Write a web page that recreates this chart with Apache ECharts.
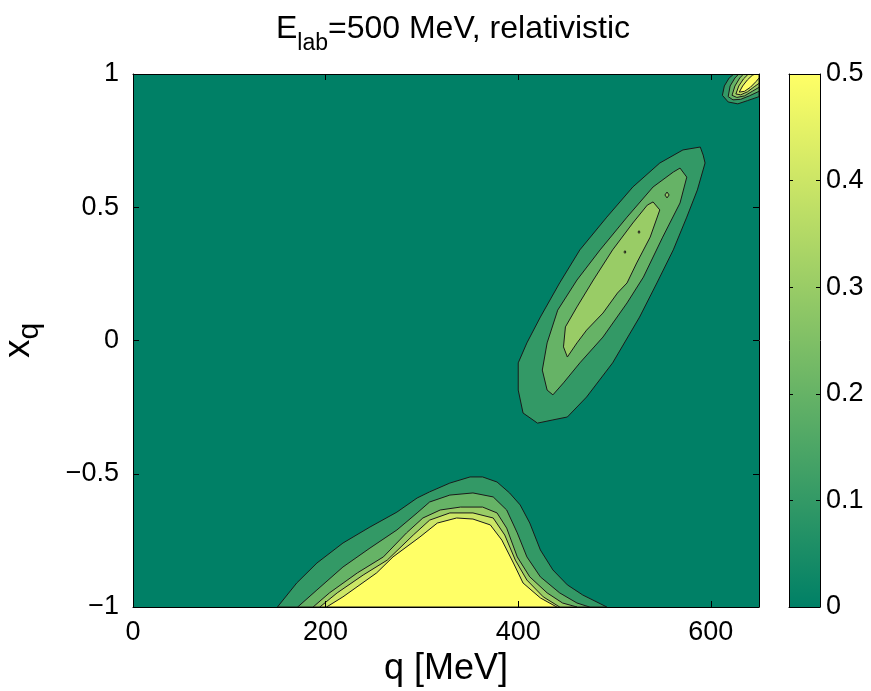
<!DOCTYPE html>
<html><head><meta charset="utf-8">
<script src="https://cdn.jsdelivr.net/npm/echarts@6/dist/echarts.min.js"></script>
<style>html,body{margin:0;padding:0;background:#fff}#c{width:871px;height:691px}</style>
</head><body><div id="c"></div>
<script>
// ---- data (q in MeV, x_q) : contour boundaries ----
const xTicks = [0, 200, 400, 600];
const yTicks = [-1, -0.5, 0, 0.5, 1];
const cbTicks = [0, 0.1, 0.2, 0.3, 0.4, 0.5];
const levels = [0.1, 0.2, 0.3, 0.4, 0.5];

const bottom01 = [[150,-1],[170,-0.91],[191,-0.835],[218,-0.76],[246,-0.70],[274,-0.644],[295,-0.591],[308,-0.568],[329,-0.535],[350,-0.512],[363,-0.512],[378,-0.531],[391,-0.572],[402,-0.617],[412,-0.685],[423,-0.786],[436,-0.861],[451,-0.917],[467,-0.955],[492,-1]];
const bottom02 = [[171,-1],[191,-0.936],[218,-0.85],[246,-0.779],[274,-0.711],[295,-0.647],[308,-0.606],[329,-0.58],[353,-0.572],[374,-0.587],[388,-0.636],[399,-0.722],[409,-0.812],[423,-0.887],[443,-0.947],[461,-0.985],[474,-1]];
const bottom03 = [[187,-1],[204,-0.947],[233,-0.872],[260,-0.812],[284,-0.722],[301,-0.666],[319,-0.636],[340,-0.625],[363,-0.625],[378,-0.647],[388,-0.704],[399,-0.812],[412,-0.887],[430,-0.947],[446,-0.985],[461,-1]];
const bottom04 = [[194,-1],[212,-0.947],[239,-0.88],[264,-0.824],[291,-0.73],[308,-0.674],[329,-0.647],[353,-0.647],[374,-0.666],[386,-0.73],[397,-0.824],[409,-0.899],[426,-0.962],[443,-1]];
const bottom05 = [[201,-1],[218,-0.962],[253,-0.872],[270,-0.812],[298,-0.737],[316,-0.685],[336,-0.666],[353,-0.67],[371,-0.692],[383,-0.749],[395,-0.835],[405,-0.91],[423,-0.966],[440,-1]];

const ridge01 = [[589,0.726],[592,0.696],[594,0.666],[586,0.565],[575,0.463],[561,0.34],[544,0.216],[526,0.088],[498,-0.084],[471,-0.212],[451,-0.287],[436,-0.298],[420,-0.31],[405,-0.272],[400,-0.186],[400,-0.084],[409,-0.009],[423,0.088],[443,0.216],[464,0.34],[492,0.463],[519,0.576],[547,0.666],[571,0.715]];
const ridge02 = [[568,0.647],[575,0.613],[568,0.516],[550,0.388],[530,0.238],[513,0.141],[488,0.013],[464,-0.084],[447,-0.159],[436,-0.204],[430,-0.186],[425,-0.111],[430,-0.009],[441,0.114],[461,0.227],[485,0.34],[513,0.463],[540,0.576],[561,0.632]];
const ridge03 = [[540,0.52],[547,0.49],[537,0.388],[523,0.291],[513,0.216],[503,0.178],[488,0.103],[471,0.039],[461,-0.009],[451,-0.062],[447,-0.024],[449,0.051],[461,0.126],[478,0.227],[498,0.34],[519,0.441],[534,0.508]];
const island03 = [[552.3,0.546],[554.5,0.557],[556.7,0.546],[554.5,0.535]];
const island04a = [[524.3,0.407],[525.4,0.412],[526.5,0.407],[525.4,0.402]];
const island04b = [[509.7,0.332],[510.8,0.337],[511.9,0.332],[510.8,0.327]];

const corner01 = [[612,0.92],[614,0.955],[619,0.985],[624,1.0],[650,1.0],[650,0.915],[638,0.9],[628,0.888],[618,0.895]];
const corner02 = [[618,0.915],[620,0.955],[625,0.985],[629,1.0],[650,1.0],[650,0.935],[640,0.918],[631,0.905],[623,0.903]];
const corner03 = [[622,0.92],[625,0.955],[630,0.985],[634,1.0],[650,1.0],[650,0.95],[643,0.935],[635,0.918],[627,0.912]];
const corner04 = [[626,0.925],[629,0.955],[634,0.982],[639,1.0],[650,1.0],[650,0.965],[645,0.952],[638,0.933],[631,0.922]];
const corner05 = [[629.5,0.932],[633,0.955],[638,0.978],[643,0.995],[646,1.0],[650,1.0],[650,0.985],[647,0.972],[641,0.95],[635,0.935]];

// ---- build ----
const contours = [
  {level:0.1, pts:bottom01},{level:0.1, pts:ridge01},{level:0.1, pts:corner01},
  {level:0.2, pts:bottom02},{level:0.2, pts:ridge02},{level:0.2, pts:corner02},
  {level:0.3, pts:bottom03},{level:0.3, pts:ridge03},{level:0.3, pts:corner03},{level:0.3, pts:island03},
  {level:0.4, pts:bottom04},{level:0.4, pts:corner04},{level:0.4, pts:island04a},{level:0.4, pts:island04b},
  {level:0.5, pts:bottom05},{level:0.5, pts:corner05}
];
// MATLAB "summer" colormap on [0, 0.5]
function summer(v){
  const t = Math.max(0, Math.min(1, v/0.5));
  const r = Math.round(255*t), g = Math.round(255*(0.5+0.5*t)), b = 102;
  return 'rgb('+r+','+g+','+b+')';
}
const F = "'Liberation Sans',Arial,sans-serif";
const minus = v => (v<0 ? '\u2212'+String(Math.abs(v)) : String(v));

const chart = echarts.init(document.getElementById('c'), null, {renderer:'canvas'});
const tickStyle = {show:true, inside:true, length:6, lineStyle:{color:'#000', width:1}};
const lineStyle = {show:true, onZero:false, lineStyle:{color:'#000', width:1}};
const TS = 27;
chart.setOption({
  animation:false,
  backgroundColor:'#fff',
  title:{
    text:'{a|E}{b|lab}{a|=500 MeV, relativistic}',
    left:448, top:8, textAlign:'center',
    textStyle:{rich:{
      a:{fontFamily:F, fontSize:32, fontWeight:'normal', color:'#000', verticalAlign:'top'},
      b:{fontFamily:F, fontSize:23, fontWeight:'normal', color:'#000', verticalAlign:'top', padding:[19,0,0,0]}
    }}
  },
  grid:[
    {left:133, top:74, width:626, height:533, show:true, backgroundColor:'#008066', borderWidth:0, outerBoundsMode:'none', containLabel:false},
    {left:789, top:74, width:31, height:533, show:false, outerBoundsMode:'none', containLabel:false}
  ],
  xAxis:[
    {type:'value', gridIndex:0, min:0, max:650, interval:200, z:10,
     axisLine:lineStyle, axisTick:tickStyle, splitLine:{show:false},
     axisLabel:{fontFamily:F, fontSize:TS, color:'#000', margin:12,
       formatter:v => (xTicks.indexOf(v)>=0 ? String(v) : '')},
     name:'q [MeV]', nameLocation:'middle', nameGap:38,
     nameTextStyle:{fontFamily:F, fontSize:36, color:'#000'}},
    {type:'value', gridIndex:0, position:'top', min:0, max:650, interval:200, z:10,
     axisLine:lineStyle, axisTick:tickStyle, axisLabel:{show:false}, splitLine:{show:false}},
    {type:'category', gridIndex:1, data:[''], z:10, axisLine:lineStyle,
     axisTick:{show:false}, axisLabel:{show:false}},
    {type:'category', gridIndex:1, position:'top', data:[''], z:10, axisLine:lineStyle,
     axisTick:{show:false}, axisLabel:{show:false}}
  ],
  yAxis:[
    {type:'value', gridIndex:0, min:-1, max:1, interval:0.5, z:10,
     axisLine:lineStyle, axisTick:tickStyle, splitLine:{show:false},
     axisLabel:{fontFamily:F, fontSize:TS, color:'#000', margin:14,
       formatter:v => (yTicks.indexOf(v)>=0 ? minus(v) : '')},
     name:'{x|x}{q|q}', nameLocation:'middle', nameGap:88, nameRotate:90,
     nameTextStyle:{rich:{
       x:{fontFamily:F, fontSize:37, color:'#000', verticalAlign:'top'},
       q:{fontFamily:F, fontSize:30, color:'#000', verticalAlign:'top', padding:[15,0,0,0]}
     }}},
    {type:'value', gridIndex:0, position:'right', min:-1, max:1, interval:0.5, z:10,
     axisLine:lineStyle, axisTick:tickStyle, axisLabel:{show:false}, splitLine:{show:false}},
    {type:'value', gridIndex:1, position:'right', min:0, max:0.5, interval:0.1, z:10,
     axisLine:lineStyle, axisTick:{show:true, inside:true, length:4, lineStyle:{color:'#000'}},
     splitLine:{show:false},
     axisLabel:{fontFamily:F, fontSize:TS, color:'#000', margin:6,
       formatter:v => { const r = Math.round(v*10)/10; return cbTicks.indexOf(r)>=0 ? String(r) : ''; }}},
    {type:'value', gridIndex:1, position:'left', min:0, max:0.5, interval:0.1, z:10,
     axisLine:lineStyle, axisTick:{show:true, inside:true, length:4, lineStyle:{color:'#000'}},
     splitLine:{show:false}, axisLabel:{show:false}}
  ],
  series:[
    {type:'custom', xAxisIndex:0, yAxisIndex:0, clip:true, z:2,
     data: contours.map(c => c.pts[0]),
     renderItem:(params, api) => {
       const c = contours[params.dataIndex];
       return {type:'polygon',
         shape:{points:c.pts.map(p => api.coord(p))},
         style:{fill:summer(c.level), stroke:'#1a1a1a', lineWidth:1}};
     }},
    {type:'bar', xAxisIndex:2, yAxisIndex:2, barWidth:'100%', z:2,
     data:[cbTicks[cbTicks.length-1]],
     itemStyle:{color:new echarts.graphic.LinearGradient(0,0,0,1,[
       {offset:0, color:summer(0.5)}, {offset:1, color:summer(0)}])}}
  ]
});
</script></body></html>
